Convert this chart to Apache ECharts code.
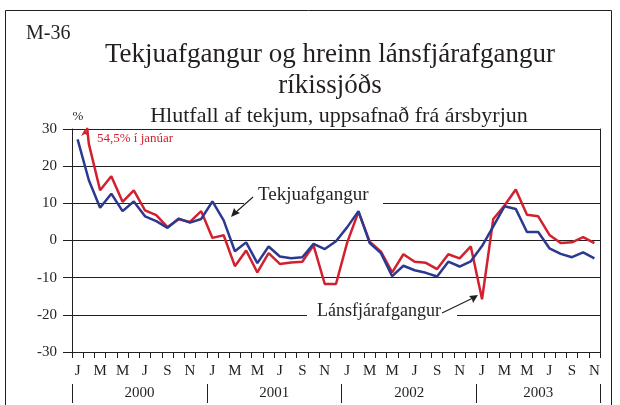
<!DOCTYPE html>
<html>
<head>
<meta charset="utf-8">
<script src="https://cdn.jsdelivr.net/npm/echarts@6/dist/echarts.min.js"></script>
<style>
  html, body { margin: 0; padding: 0; background: #fff; }
  #main { width: 620px; height: 405px; }
</style>
</head>
<body>
<div id="main"></div>
<script>
// Month letters and years for the two-level x axis
const months = ['J', 'F', 'M', 'A', 'M', 'J', 'J', 'A', 'S', 'O', 'N', 'D'];
const years = ['2000', '2001', '2002', '2003'];

// Jan 2000 - Nov 2003, % of revenue, cumulative from start of year
const tekjuafgangur = [
    27.2, 16.2, 8.8, 12.6, 7.9, 10.5, 6.5, 5.2, 3.4, 5.9, 4.8, 5.8,
    10.5, 5.4, -2.9, -0.5, -6.1, -1.6, -4.3, -4.8, -4.5, -0.9, -2.3, -0.2,
    3.6, 7.9, -0.7, -3.4, -9.6, -6.8, -8.0, -8.7, -9.7, -5.7, -7.0, -5.6,
    -1.5, 3.8, 9.2, 8.5, 2.3, 2.3, -2.1, -3.6, -4.5, -3.2, -4.8
];
const lansfjarafgangur = [
    54.5, 26.0, 13.5, 17.3, 10.4, 13.5, 8.1, 6.8, 3.6, 5.7, 5.0, 7.9,
    0.7, 1.4, -6.9, -2.7, -8.6, -3.4, -6.3, -5.9, -5.7, -1.3, -11.7, -11.7,
    -0.5, 7.7, -0.3, -3.0, -8.6, -3.7, -5.7, -6.0, -7.7, -3.7, -4.8, -1.6,
    -15.8, 5.8, 9.4, 13.7, 6.9, 6.5, 1.5, -0.7, -0.5, 0.9, -0.7
];

const categories = tekjuafgangur.map((v, i) => years[Math.floor(i / 12)] + '-' + (i % 12 + 1));

const serif = '"Liberation Serif", "DejaVu Serif", serif';
const ink = '#231f20';

var myChart = echarts.init(document.getElementById('main'));

var option = {
    animation: false,
    backgroundColor: '#fff',
    grid: { left: 72, right: 20, top: 129, bottom: 53, containLabel: false },
    xAxis: [
        {
            type: 'category',
            data: categories,
            boundaryGap: true,
            axisLine: { onZero: false, lineStyle: { color: ink, width: 1 } },
            axisTick: { show: true, interval: 0, length: 6, lineStyle: { color: ink } },
            axisLabel: {
                interval: 1,
                margin: 12,
                color: ink,
                fontFamily: serif,
                fontSize: 15,
                formatter: (value, idx) => months[idx % 12]
            },
            splitLine: { show: false }
        },
        {
            // year row with separators
            type: 'category',
            data: categories,
            position: 'bottom',
            offset: 32,
            boundaryGap: true,
            axisLine: { show: false, onZero: false },
            axisTick: {
                show: true,
                interval: idx => idx % 12 === 0,
                length: 19,
                lineStyle: { color: ink }
            },
            axisLabel: {
                interval: idx => (idx % 12 === 6 && idx < 36) || idx === 41,
                margin: 2,
                color: ink,
                fontFamily: serif,
                fontSize: 15,
                formatter: (value, idx) => idx < 36
                    ? '{s|' + years[Math.floor(idx / 12)] + '}'
                    : '{c|' + years[3] + '}',
                rich: {
                    s: { padding: [0, 11, 0, 0], fontFamily: serif, fontSize: 15, color: ink },
                    c: { fontFamily: serif, fontSize: 15, color: ink }
                }
            }
        }
    ],
    yAxis: [
        {
            type: 'value',
            min: -30,
            max: 30,
            interval: 10,
            axisLine: { show: true, lineStyle: { color: ink } },
            axisTick: { show: true, length: 9, lineStyle: { color: ink } },
            axisLabel: { margin: 15, color: ink, fontFamily: serif, fontSize: 15 },
            splitLine: { show: true, lineStyle: { color: ink, width: 1 } }
        },
        {
            type: 'value',
            min: -30,
            max: 30,
            interval: 10,
            position: 'right',
            axisLine: { show: true, lineStyle: { color: ink } },
            axisTick: { show: false },
            axisLabel: { show: false },
            splitLine: { show: false }
        }
    ],
    series: [
        {
            name: 'Tekjuafgangur',
            type: 'line',
            data: tekjuafgangur,
            symbol: 'none',
            lineStyle: { color: '#2b3990', width: 2.5 },
            z: 3
        },
        {
            name: 'Lánsfjárafgangur',
            type: 'line',
            data: lansfjarafgangur,
            symbol: 'none',
            clip: true,
            lineStyle: { color: '#d2202f', width: 2.5 },
            z: 2
        }
    ],
    graphic: [
        // outer frame
        { type: 'rect', shape: { x: 5.5, y: 10.5, width: 606, height: 420 },
          style: { fill: 'none', stroke: ink, lineWidth: 1 }, z: 0, silent: true },
        { type: 'text', x: 26, y: 34, style: { text: 'M-36', font: '20px ' + serif, fill: ink, textVerticalAlign: 'middle' } },
        { type: 'text', x: 330, y: 55, style: { text: 'Tekjuafgangur og hreinn lánsfjárafgangur', font: '27px ' + serif, fill: ink, textAlign: 'center', textVerticalAlign: 'middle' } },
        { type: 'text', x: 330, y: 86, style: { text: 'ríkissjóðs', font: '27px ' + serif, fill: ink, textAlign: 'center', textVerticalAlign: 'middle' } },
        { type: 'text', x: 339, y: 116, style: { text: 'Hlutfall af tekjum, uppsafnað frá ársbyrjun', font: '22px ' + serif, fill: ink, textAlign: 'center', textVerticalAlign: 'middle' } },
        { type: 'text', x: 78, y: 117, style: { text: '%', font: '13px ' + serif, fill: ink, textAlign: 'center', textVerticalAlign: 'middle' } },
        // red note for January 2000
        { type: 'text', x: 97, y: 139, style: { text: '54,5% í janúar', font: '13px ' + serif, fill: '#d2202f', textVerticalAlign: 'middle' } },
        { type: 'polygon', shape: { points: [[85, 129], [81, 136], [85, 134], [89, 136]] }, style: { fill: '#d2202f' }, z: 10 },
        // Tekjuafgangur label
        { type: 'rect', shape: { x: 244, y: 197, width: 139, height: 10 }, style: { fill: '#fff' }, z: 5 },
        { type: 'text', x: 258, y: 195, style: { text: 'Tekjuafgangur', font: '19px ' + serif, fill: ink, textVerticalAlign: 'middle' }, z: 6 },
        { type: 'line', shape: { x1: 253, y1: 197, x2: 235, y2: 213 }, style: { stroke: ink, lineWidth: 1.2 }, z: 6 },
        { type: 'polygon', shape: { points: [[231, 217], [234, 208], [236, 211], [240, 213]] }, style: { fill: ink }, z: 6 },
        // Lánsfjárafgangur label
        { type: 'rect', shape: { x: 307, y: 306, width: 150, height: 14 }, style: { fill: '#fff' }, z: 5 },
        { type: 'text', x: 317, y: 311, style: { text: 'Lánsfjárafgangur', font: '18px ' + serif, fill: ink, textVerticalAlign: 'middle' }, z: 6 },
        { type: 'line', shape: { x1: 442, y1: 313, x2: 473, y2: 298 }, style: { stroke: ink, lineWidth: 1.2 }, z: 6 },
        { type: 'polygon', shape: { points: [[478, 295], [469, 296], [472, 299], [473, 303]] }, style: { fill: ink }, z: 6 }
    ]
};

myChart.setOption(option);
</script>
</body>
</html>
